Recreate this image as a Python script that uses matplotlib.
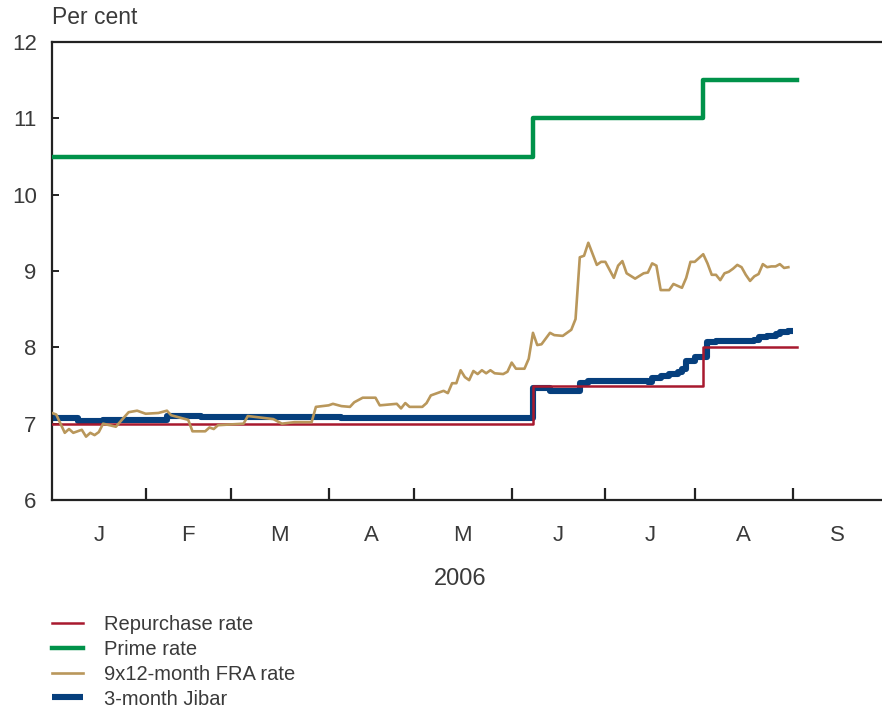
"""Repo, prime, FRA and Jibar rates, 2006 (business-day axis)."""
import matplotlib
matplotlib.use("Agg")
import matplotlib.pyplot as plt
import numpy as np

plt.rcParams["font.family"] = ["Liberation Sans", "DejaVu Sans"]

INK = "#3a3a3a"
RED = "#A8192E"
GREEN = "#00924A"
TAN = "#B9975B"
BLUE = "#063F7D"

# x = business-day number counted from 2 Jan 2006
month_labels = ["J", "F", "M", "A", "M", "J", "J", "A", "S"]
month_start = [0, 22, 42, 65, 85, 108, 130, 151, 174, 195]

repo_day = [0, 113, 153, 175]
repo_val = [7.0, 7.5, 8.0, 8.0]
prime_day = [0, 113, 153, 175]
prime_val = [10.5, 11.0, 11.5, 11.5]

fra_day = [0, 1, 3, 4, 5, 7, 8, 9, 10, 11, 12, 15, 18, 20, 22, 25, 27, 28, 32, 33,
           36, 37, 38, 39, 45, 46, 52, 54, 57, 61, 62, 65, 66, 68, 70, 71, 73, 76,
           77, 81, 82, 83, 84, 87, 88, 89, 90, 92, 93, 94, 95, 96, 97, 98, 99, 100,
           101, 102, 103, 104, 106, 107, 108, 109, 111, 112, 113, 114, 115, 117,
           118, 120, 122, 123, 124, 125, 126, 128, 129, 130, 132, 133, 134, 135,
           137, 139, 140, 141, 142, 143, 145, 146, 148, 149, 150, 151, 152, 153,
           154, 155, 156, 157, 158, 159, 160, 161, 162, 163, 164, 165, 166, 167,
           168, 169, 170, 171, 172, 173]
fra_val = [7.14, 7.12, 6.88, 6.93, 6.88, 6.92, 6.83, 6.88, 6.85, 6.89, 7.0, 6.96,
           7.15, 7.17, 7.13, 7.14, 7.17, 7.11, 7.05, 6.9, 6.9, 6.95, 6.93, 6.98,
           7.0, 7.1, 7.06, 7.0, 7.02, 7.02, 7.22, 7.24, 7.26, 7.23, 7.22, 7.28,
           7.34, 7.34, 7.24, 7.26, 7.2, 7.27, 7.22, 7.22, 7.27, 7.37, 7.39, 7.43,
           7.4, 7.53, 7.53, 7.7, 7.61, 7.57, 7.69, 7.65, 7.7, 7.66, 7.7, 7.66,
           7.65, 7.68, 7.8, 7.72, 7.72, 7.85, 8.19, 8.03, 8.04, 8.19, 8.16, 8.15,
           8.23, 8.37, 9.18, 9.2, 9.37, 9.08, 9.12, 9.12, 8.91, 9.07, 9.13, 8.97,
           8.9, 8.97, 8.98, 9.1, 9.07, 8.75, 8.75, 8.83, 8.78, 8.91, 9.12, 9.12,
           9.17, 9.22, 9.1, 8.95, 8.95, 8.88, 8.97, 8.99, 9.03, 9.08, 9.05, 8.95,
           8.87, 8.93, 8.96, 9.09, 9.05, 9.06, 9.06, 9.09, 9.04, 9.05]

jibar_day = [0, 6, 12, 27, 35, 68, 113, 117, 124, 126, 140, 141, 143, 145, 147,
             148, 149, 151, 154, 156, 165, 166, 168, 170, 171, 173, 174]
jibar_val = [7.07, 7.03, 7.05, 7.10, 7.09, 7.08, 7.47, 7.43, 7.53, 7.56, 7.55,
             7.6, 7.63, 7.65, 7.68, 7.72, 7.82, 7.87, 8.07, 8.08, 8.10, 8.13,
             8.15, 8.17, 8.20, 8.22, 8.22]

fig = plt.figure(figsize=(8.82, 7.09), dpi=100)
ax = fig.add_axes([52 / 882, 1 - 500 / 709, 830 / 882, 458 / 709])

ax.plot(jibar_day, jibar_val, color=BLUE, lw=4.4, drawstyle="steps-post",
        solid_capstyle="butt", zorder=2, label="3-month Jibar")
ax.plot(repo_day, repo_val, color=RED, lw=1.8, drawstyle="steps-post",
        zorder=3, label="Repurchase rate")
ax.plot(prime_day, prime_val, color=GREEN, lw=3.2, drawstyle="steps-post",
        zorder=3, label="Prime rate")
ax.plot(fra_day, fra_val, color=TAN, lw=1.9, zorder=4, label="9x12-month FRA rate")

ax.set_xlim(0, 195)
ax.set_ylim(6, 12)
ax.set_yticks(range(6, 13))
ax.tick_params(axis="y", direction="in", length=5, width=1.4, color="#222222",
               labelsize=16, labelcolor=INK, pad=11)

ax.set_xticks(month_start[1:-1])
ax.set_xticklabels([])
ax.tick_params(axis="x", which="major", direction="in", length=9, width=1.6,
               color="#222222")
mid = [(a + b) / 2 for a, b in zip(month_start[:-1], month_start[1:])]
ax.set_xticks(mid, minor=True)
ax.set_xticklabels(month_labels, minor=True)
ax.tick_params(axis="x", which="minor", length=0, labelsize=16, colors=INK, pad=18)

for s in ["left", "bottom", "top"]:
    ax.spines[s].set_linewidth(1.6)
    ax.spines[s].set_color("#222222")
ax.spines["right"].set_visible(False)

fig.text(52 / 882, 1 - 18 / 709, "Per cent", fontsize=16.5, color=INK,
         ha="left", va="center")
fig.text(460 / 882, 1 - 579 / 709, "2006", fontsize=17, color=INK,
         ha="center", va="center")

h, l = ax.get_legend_handles_labels()
order = [1, 2, 3, 0]
fig.legend([h[i] for i in order], [l[i] for i in order], loc="upper left",
           bbox_to_anchor=(52 / 882, 1 - 615 / 709), frameon=False,
           fontsize=14.5, labelcolor=INK, handlelength=1.55, handletextpad=1.05,
           labelspacing=0.29, borderpad=0, borderaxespad=0)

fig.savefig("out.png", dpi=100, facecolor="white")
